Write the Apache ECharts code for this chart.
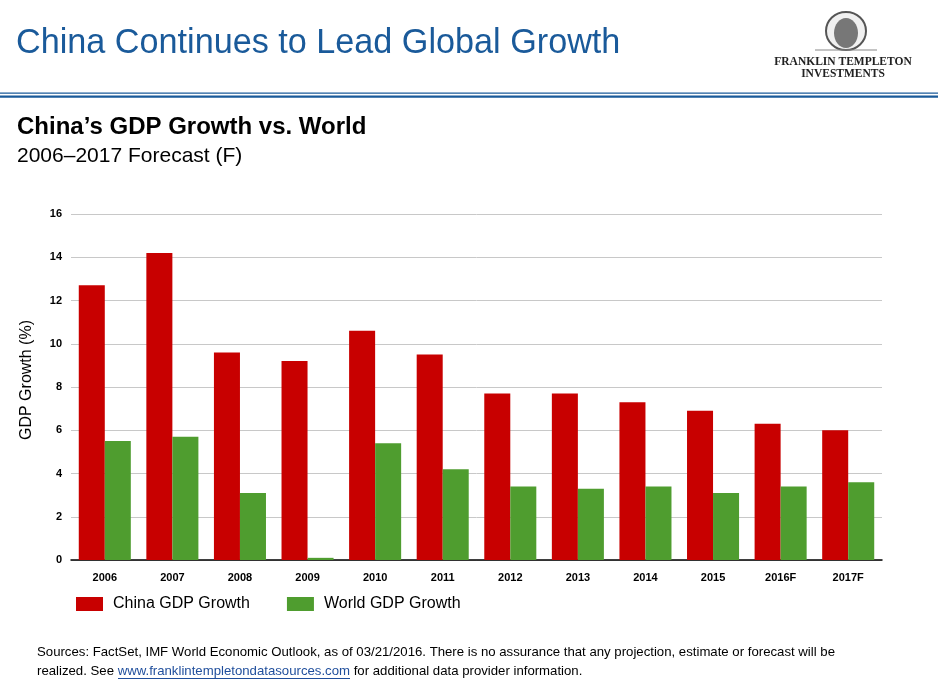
<!DOCTYPE html>
<html>
<head>
<meta charset="utf-8">
<title>China Continues to Lead Global Growth</title>
<script src="https://cdn.jsdelivr.net/npm/echarts@6/dist/echarts.min.js"></script>
<style>
  html, body { margin: 0; padding: 0; background: #fff; }
  #main { width: 938px; height: 694px; }
</style>
</head>
<body>
<div id="main"></div>
<script>
// 数据
var years = ['2006', '2007', '2008', '2009', '2010', '2011', '2012', '2013', '2014', '2015', '2016F', '2017F'];
var chinaGrowth = [12.7, 14.2, 9.6, 9.2, 10.6, 9.5, 7.7, 7.7, 7.3, 6.9, 6.3, 6.0];
var worldGrowth = [5.5, 5.7, 3.1, 0.1, 5.4, 4.2, 3.4, 3.3, 3.4, 3.1, 3.4, 3.6];
var seriesNames = ['China GDP Growth', 'World GDP Growth'];

(function () {
    var chart = echarts.init(document.getElementById('main'));
    var blue = '#1a5a9a';

    var option = {
        backgroundColor: '#fff',
        animation: false,
        textStyle: { fontFamily: 'Arial, "Liberation Sans", sans-serif' },
        grid: { left: 71, right: 56, top: 214, bottom: 134 },
        legend: {
            left: 76, top: 596, padding: 0,
            itemWidth: 27, itemHeight: 14, itemGap: 37,
            icon: 'rect',
            textStyle: { fontSize: 16, color: '#000', padding: [0, 0, 0, 5] },
            data: seriesNames
        },
        xAxis: {
            type: 'category',
            data: years,
            axisLine: { lineStyle: { color: '#000', width: 1.5 } },
            axisTick: { show: false },
            axisLabel: { color: '#000', fontWeight: 'bold', fontSize: 11, margin: 12 }
        },
        yAxis: {
            type: 'value',
            min: 0, max: 16, interval: 2,
            name: 'GDP Growth (%)',
            nameLocation: 'middle',
            nameGap: 36,
            nameTextStyle: { fontSize: 16, color: '#000', padding: [0, 0, 0, 14] },
            axisLine: { show: false },
            axisTick: { show: false },
            axisLabel: { color: '#000', fontWeight: 'bold', fontSize: 11, margin: 9 },
            splitLine: { lineStyle: { color: '#c8c8c8', width: 1 } }
        },
        series: [
            {
                name: seriesNames[0], type: 'bar', data: chinaGrowth,
                barGap: 0, barCategoryGap: '23%',
                itemStyle: { color: '#c80000' }
            },
            {
                name: seriesNames[1], type: 'bar', data: worldGrowth,
                barGap: 0, barCategoryGap: '23%',
                itemStyle: { color: '#4f9d2f' }
            }
        ],
        graphic: [
            // 标题
            { type: 'text', left: 16, top: 27, style: { text: 'China Continues to Lead Global Growth', fontSize: 34.2, fill: blue, fontFamily: 'Arial' } },
            // 双线
            { type: 'rect', shape: { x: 0, y: 92.5, width: 938, height: 1.2 }, style: { fill: blue } },
            { type: 'rect', shape: { x: 0, y: 95.5, width: 938, height: 2.2 }, style: { fill: blue } },
            // logo
            { type: 'ellipse', shape: { cx: 846, cy: 31, rx: 20, ry: 19 }, style: { fill: '#f0f0f0', stroke: '#555', lineWidth: 2 } },
            { type: 'ellipse', shape: { cx: 846, cy: 33, rx: 12, ry: 15 }, style: { fill: '#777' } },
            { type: 'line', shape: { x1: 815, y1: 50, x2: 877, y2: 50 }, style: { stroke: '#888', lineWidth: 1 } },
            { type: 'text', x: 843, y: 56, style: { text: 'FRANKLIN TEMPLETON', fontSize: 11.5, fontWeight: 'bold', fill: '#222', fontFamily: '"Liberation Serif", "DejaVu Serif", serif', align: 'center' } },
            { type: 'text', x: 843, y: 68, style: { text: 'INVESTMENTS', fontSize: 11.5, fontWeight: 'bold', fill: '#222', fontFamily: '"Liberation Serif", "DejaVu Serif", serif', align: 'center' } },
            // 副标题
            { type: 'text', left: 17, top: 115, style: { text: 'China\u2019s GDP Growth vs. World', fontSize: 24, fontWeight: 'bold', fill: '#000', fontFamily: 'Arial' } },
            { type: 'text', left: 17, top: 146, style: { text: '2006\u20132017 Forecast (F)', fontSize: 21, fill: '#000', fontFamily: 'Arial' } },
            // 脚注
            { type: 'text', left: 37, top: 646, style: { text: 'Sources: FactSet, IMF World Economic Outlook, as of 03/21/2016. There is no assurance that any projection, estimate or forecast will be', fontSize: 13.2, fill: '#000', fontFamily: 'Arial' } },
            { type: 'text', left: 37, top: 665, style: {
                text: 'realized. See {link|www.franklintempletondatasources.com} for additional data provider information.',
                fontSize: 13.2, fill: '#000', fontFamily: 'Arial',
                rich: { link: { fontSize: 13.2, fill: '#1f4e9c', fontFamily: 'Arial' } }
            } },
            // 链接下划线
            { type: 'line', shape: { x1: 118, y1: 678.5, x2: 350, y2: 678.5 }, style: { stroke: '#1f4e9c', lineWidth: 1 } }
        ]
    };
    chart.setOption(option);
})();
</script>
</body>
</html>
